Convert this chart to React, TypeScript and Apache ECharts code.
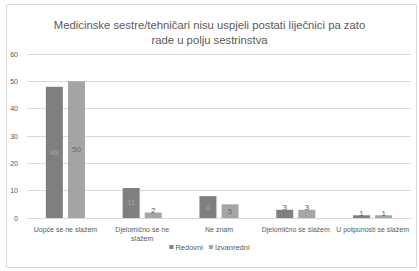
import React, { useEffect, useRef } from "react";
import * as echarts from "echarts";

const title = "Medicinske sestre/tehničari nisu uspjeli postati liječnici pa zato\nrade u polju sestrinstva";
const categories = [
  "Uopće se ne slažem",
  "Djelomično se ne slažem",
  "Ne znam",
  "Djelomično se slažem",
  "U potpunosti se slažem",
];
const seriesNames = ["Redovni", "Izvanredni"];
const redovni = [48, 11, 8, 3, 1];
const izvanredni = [50, 2, 5, 3, 1];
const yTicks = { min: 0, max: 60, interval: 10 };

const FONT = "'Liberation Sans', Arial, sans-serif";

function mkData(values: number[], insideColor: string) {
  return values.map((v) =>
    v <= 3
      ? { value: v, label: { position: "top", distance: -2, color: "#595959" } }
      : { value: v, label: { position: "inside", color: insideColor } }
  );
}

// wrap only labels wider than the category slot, like the original
function wrapLabel(v: string) {
  if (v.length <= 22) return v;
  const words = v.split(" ");
  return words.slice(0, -1).join(" ") + "\n" + words[words.length - 1];
}

export default function App() {
  const ref = useRef<HTMLDivElement>(null);
  useEffect(() => {
    if (!ref.current) return;
    const chart = echarts.init(ref.current, null, { renderer: "svg" });
    chart.setOption({
      animation: false,
      backgroundColor: "#ffffff",
      title: {
        text: title,
        left: "center",
        top: 12,
        textStyle: {
          fontFamily: FONT,
          fontSize: 11.3,
          fontWeight: "normal",
          color: "#595959",
          lineHeight: 15,
        },
      },
      graphic: [
        {
          type: "rect",
          shape: { x: 6.5, y: 4.5, width: 410, height: 263 },
          style: { fill: "none", stroke: "#d9d9d9", lineWidth: 1 },
          silent: true,
        },
      ],
      legend: {
        data: seriesNames,
        top: 238,
        left: "center",
        icon: "rect",
        itemWidth: 4,
        itemHeight: 4,
        itemGap: 6,
        textStyle: { fontFamily: FONT, fontSize: 7.5, color: "#595959", padding: [0, 0, 0, -3] },
      },
      grid: { left: 27, right: 8, top: 54, bottom: 53, containLabel: false },
      xAxis: {
        type: "category",
        data: categories,
        axisLine: { show: true, lineStyle: { color: "#d9d9d9" } },
        axisTick: { show: false },
        axisLabel: {
          interval: 0,
          fontFamily: FONT,
          fontSize: 7,
          color: "#595959",
          overflow: "none",
          formatter: wrapLabel,
          lineHeight: 9,
          margin: 7,
        },
      },
      yAxis: {
        type: "value",
        min: yTicks.min,
        max: yTicks.max,
        interval: yTicks.interval,
        axisLine: { show: false },
        axisTick: { show: false },
        splitLine: { lineStyle: { color: "#d9d9d9" } },
        axisLabel: { fontFamily: FONT, fontSize: 7, color: "#595959", margin: 9 },
      },
      series: [
        {
          name: seriesNames[0],
          type: "bar",
          data: mkData(redovni, "#a6a6a6"),
          barWidth: 17,
          barGap: "30%",
          itemStyle: { color: "#7f7f7f" },
          label: { show: true, fontFamily: FONT, fontSize: 8 },
        },
        {
          name: seriesNames[1],
          type: "bar",
          data: mkData(izvanredni, "#666666"),
          barWidth: 17,
          itemStyle: { color: "#a5a5a5" },
          label: { show: true, fontFamily: FONT, fontSize: 8 },
        },
      ],
    });
    return () => chart.dispose();
  }, []);
  return (
    <div
      ref={ref}
      style={{ position: "fixed", left: 0, top: 0, width: 419, height: 271 }}
    />
  );
}
